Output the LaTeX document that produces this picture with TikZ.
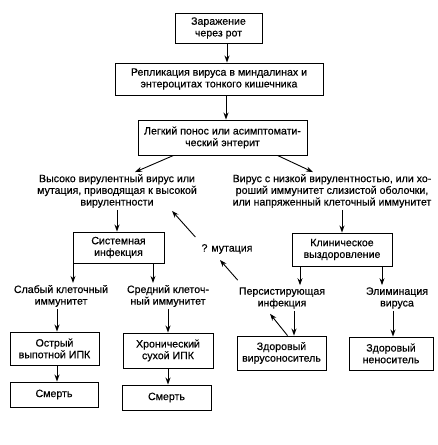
\documentclass[tikz,border=0pt]{standalone}
\usepackage{fontspec}
\setmainfont{Liberation Sans}[FakeBold=0.4]
\usetikzlibrary{arrows.meta}

\begin{document}
\begin{tikzpicture}[x=1pt,y=1pt,
  font=\fontsize{10.6}{11.7}\selectfont,
  box/.style={draw,line width=0.9pt,align=center,inner xsep=2pt,inner ysep=0.5pt},
  txt/.style={align=center,inner sep=2pt},
  arr/.style={line width=0.9pt,-{Stealth[length=7pt,width=5pt]}}]
\useasboundingbox (0,0) rectangle (437,445);
\node(A) [box,minimum width=87pt,minimum height=30pt] at (218.5,417) {Заражение\\через рот};
\node(B) [box,minimum width=208pt,minimum height=32pt] at (219,366) {Репликация вируса в миндалинах и\\энтероцитах тонкого кишечника};
\node(C) [box,minimum width=169pt,minimum height=35pt] at (222.5,307.5) {Легкий понос или асимптомати-\\ческий энтерит};
\node(D) [txt] at (117,254) {Высоко вирулентный вирус или\\мутация, приводящая к высокой\\вирулентности};
\node(E) [txt] at (332,254) {Вирус с низкой вирулентностью, или хо-\\роший иммунитет слизистой оболочки,\\или напряженный клеточный иммунитет};
\node(F) [box,minimum width=91pt,minimum height=31pt] at (118.5,197.5) {Системная\\инфекция};
\node(G) [box,minimum width=100pt,minimum height=33pt] at (342,195.5) {Клиническое\\выздоровление};
\node(M) [txt] at (227,196) {? мутация};
\node(H) [txt] at (61,149) {Слабый клеточный\\иммунитет};
\node(I) [txt] at (168,149) {Средний клеточ-\\ный иммунитет};
\node(J) [txt] at (282,147) {Персистирующая\\инфекция};
\node(K) [txt] at (397,147) {Элиминация\\вируса};
\node(L) [box,minimum width=89pt,minimum height=33pt] at (54.5,96.5) {Острый\\выпотной ИПК};
\node(N) [box,minimum width=90pt,minimum height=35pt] at (168,94.5) {Хронический\\сухой ИПК};
\node(O) [box,minimum width=89pt,minimum height=34pt] at (281.5,92) {Здоровый\\вирусоноситель};
\node(P) [box,minimum width=84pt,minimum height=33pt] at (391,91.5) {Здоровый\\неноситель};
\node(Q) [box,minimum width=88pt,minimum height=25pt] at (54,50.5) {Смерть};
\node(R) [box,minimum width=89pt,minimum height=25pt] at (166.5,47.5) {Смерть};
% top chain
\draw[arr] ([xshift=8.5pt]A.south) -- ([xshift=8.5pt]A.south |- B.north);
\draw[arr] ([xshift=7pt]B.south) -- ([xshift=7pt]B.south |- C.north);
\draw[arr] ([xshift=-49pt]C.south) -- ([xshift=18pt]D.north);
\draw[arr] ([xshift=55pt]C.south) -- ([xshift=-19pt]E.north);
% left branch
\draw[arr] (D.south) -- (D.south |- F.north);
\draw[arr] ([xshift=-45.5pt]F.south) -- ([xshift=-45.5pt]F.south |- H.north);
\draw[arr] ([xshift=34.5pt]F.south) -- ([xshift=34.5pt]F.south |- I.north);
\draw[arr] ([xshift=-4pt]H.south) -- ([xshift=-4pt]H.south |- L.north);
\draw[arr] (I.south) -- (I.south |- N.north);
\draw[arr] ([xshift=2.5pt]L.south) -- ([xshift=2.5pt]L.south |- Q.north);
\draw[arr] ([xshift=1.5pt]R.north |- N.south) -- ([xshift=1.5pt]R.north);
% right branch
\draw[arr] (G.north |- E.south) -- (G.north);
\draw[arr] ([xshift=-42pt]G.south) -- ([xshift=-42pt]G.south |- J.north);
\draw[arr] ([xshift=40pt]G.south) -- ([xshift=40pt]G.south |- K.north);
\draw[arr] ([xshift=12pt]J.south) -- ([xshift=12pt]J.south |- O.north);
\draw[arr] ([xshift=6pt]O.north) -- ([shift={(-12pt,-3pt)}]J.south);
\draw[arr] ([xshift=-4pt]K.south) -- ([xshift=-4pt]K.south |- P.north);
% mutation
\draw[arr] ([shift={(1pt,5pt)}]J.north west) -- ([shift={(-7pt,-4pt)}]M.south);
\draw[arr] ([shift={(-4pt,5pt)}]M.north west) -- ([shift={(-27pt,-1pt)}]D.south east);
\end{tikzpicture}
\end{document}
